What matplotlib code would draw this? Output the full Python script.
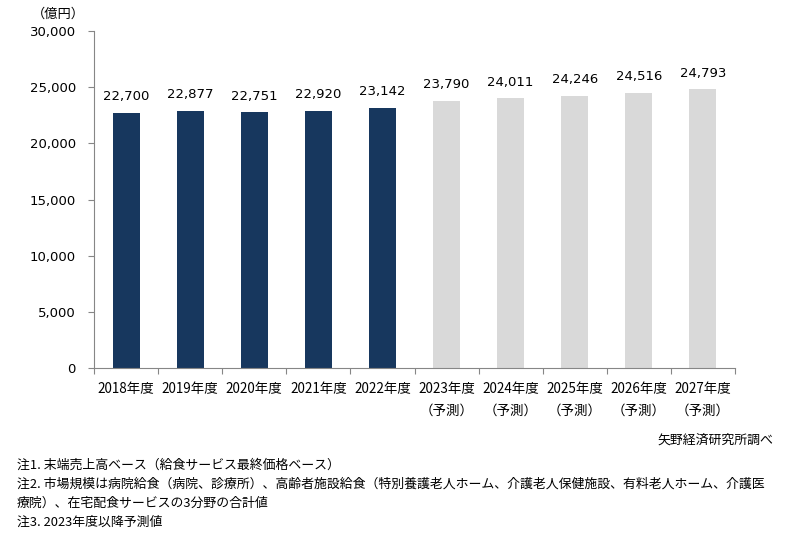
import matplotlib
matplotlib.use('Agg')
import matplotlib.pyplot as plt
from matplotlib.ticker import FuncFormatter

years = ['2018年度', '2019年度', '2020年度', '2021年度', '2022年度',
         '2023年度', '2024年度', '2025年度', '2026年度', '2027年度']
values = [22700, 22877, 22751, 22920, 23142, 23790, 24011, 24246, 24516, 24793]
forecast = [False, False, False, False, False, True, True, True, True, True]
notes = ['注1. 末端売上高ベース（給食サービス最終価格ベース）',
         '注2. 市場規模は病院給食（病院、診療所）、高齢者施設給食（特別養護老人ホーム、介護老人保健施設、有料老人ホーム、介護医',
         '療院）、在宅配食サービスの3分野の合計値',
         '注3. 2023年度以降予測値']

plt.rcParams['font.family'] = ['Noto Sans CJK JP', 'DejaVu Sans']
jp = ['Noto Sans CJK JP', 'DejaVu Sans']
num = ['DejaVu Sans']

fig = plt.figure(figsize=(7.94, 5.36), dpi=100)
ax = fig.add_axes([94/794, 1-368/536, 641/794, 337/536])

c = ['#D9D9D9' if f else '#17375E' for f in forecast]
x = list(range(len(years)))
bars = ax.bar(x, values, width=0.42, color=c)
for b, v in zip(bars, values):
    ax.text(b.get_x() + b.get_width()/2, v + 850, f'{v:,}', ha='center', va='bottom',
            fontsize=9.5, family=num, color='#000000')

ax.set_xlim(-0.5, len(years) - 0.5)
ax.set_ylim(0, 30000)
ax.set_yticks(range(0, 30001, 5000))
ax.yaxis.set_major_formatter(FuncFormatter(lambda v, p: f'{int(v):,}'))
for t in ax.get_yticklabels():
    t.set_family(num)
    t.set_fontsize(9.5)
ax.tick_params(axis='y', length=4.5, color='#868686', pad=8.5)
ax.set_xticks([i + 0.5 for i in range(-1, len(years))])
ax.set_xticklabels([])
ax.tick_params(axis='x', length=4.5, color='#868686')
for s in ['top', 'right']:
    ax.spines[s].set_visible(False)
for s in ['left', 'bottom']:
    ax.spines[s].set_color('#868686')

for i, (yr, f) in enumerate(zip(years, forecast)):
    ax.text(i, -0.063, yr, transform=ax.get_xaxis_transform(), ha='center', va='center',
            fontsize=9.7, family=jp)
    if f:
        ax.text(i, -0.126, '（予測）', transform=ax.get_xaxis_transform(), ha='center',
                va='center', fontsize=9.7, family=jp)

fig.text(32/794, 1-14/536, '（億円）', ha='left', va='center', fontsize=9.5, family=jp)
fig.text(773/794, 1-440/536, '矢野経済研究所調べ', ha='right', va='center', fontsize=9.3, family=jp)
for yy, n in zip([465, 484, 503, 522], notes):
    fig.text(17/794, 1-yy/536, n, ha='left', va='center', fontsize=9.3, family=jp)

fig.savefig('out.png', dpi=100)
